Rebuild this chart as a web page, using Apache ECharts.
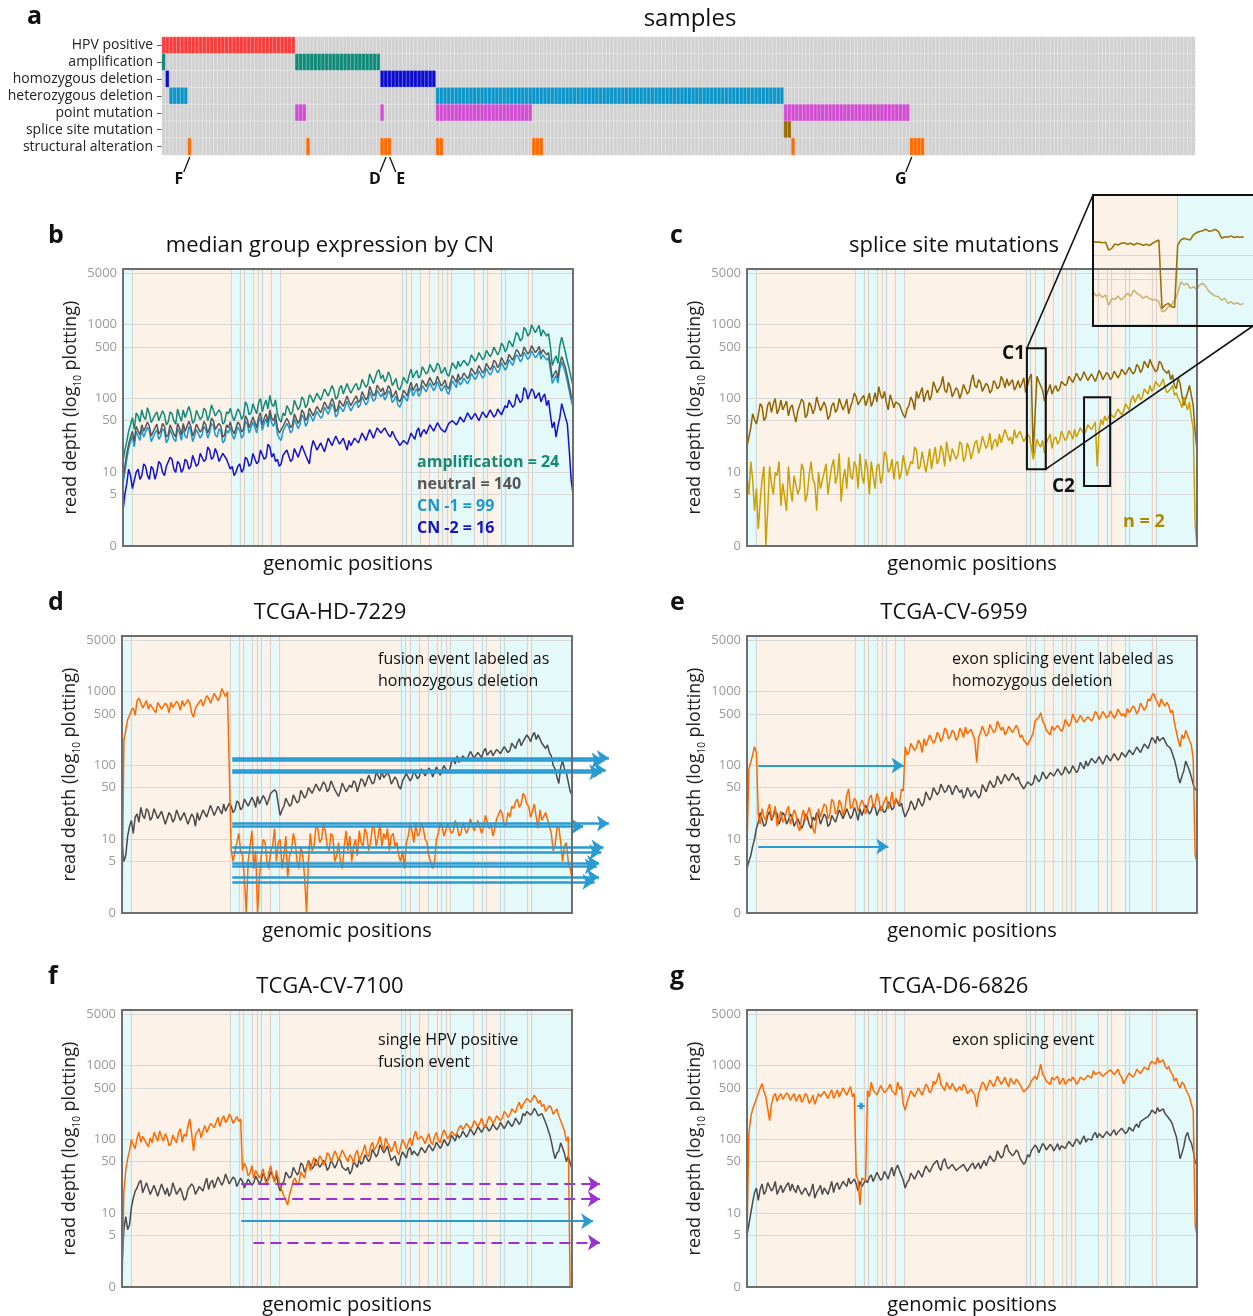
<!DOCTYPE html>
<html>
<head>
<meta charset="utf-8">
<script src="https://cdn.jsdelivr.net/npm/echarts@6/dist/echarts.min.js"></script>
<style>
  html, body { margin: 0; padding: 0; background: #ffffff; }
  #chart { width: 1253px; height: 1316px; }
</style>
</head>
<body>
<div id="chart"></div>
<script>
// ---------------- panel a: per-sample annotation tracks ----------------
const sampleCount = 279;
const annotationRows = ['HPV positive', 'amplification', 'homozygous deletion', 'heterozygous deletion',
  'point mutation', 'splice site mutation', 'structural alteration'];
// inclusive sample index ranges flagged in each track
const hpvPositive = [[0, 35]];
const amplification = [[0, 0], [36, 58]];
const homozygousDeletion = [[1, 1], [59, 73]];
const heterozygousDeletion = [[2, 6], [74, 167]];
const pointMutation = [[36, 38], [59, 59], [74, 99], [168, 201]];
const spliceSiteMutation = [[168, 169]];
const structuralAlteration = [[7, 7], [39, 39], [59, 61], [74, 75], [100, 102], [170, 170], [202, 205]];
const highlightedLabels = ['F', 'D', 'E', 'G'];
const highlightedSamples = [7, 60, 61, 202];

// ---------------- gene model (fraction of genomic span) ----------------
const exonSpans = [[0, 0.023], [0.243, 0.262], [0.269, 0.29], [0.305, 0.314], [0.333, 0.348],
  [0.618, 0.633], [0.64, 0.658], [0.684, 0.696], [0.707, 0.718], [0.729, 0.784], [0.795, 0.807],
  [0.836, 0.9], [0.907, 1]];
const extraBoundaries = [0.85];

// ---------------- read depth axis ----------------
const depthTicks = [1, 5, 10, 50, 100, 500, 1000, 5000];
const depthTickLabels = ['0', '5', '10', '50', '100', '500', '1000', '5000'];

// ---------------- panel b: median group expression by CN ----------------
const medianAmplification = [
  14, 20, 26, 36, 44, 55, 38, 64, 58, 48, 70, 56, 52, 75, 62, 47, 45, 60, 66, 50,
  50, 68, 60, 44, 48, 66, 62, 50, 45, 72, 58, 49, 70, 55, 52, 78, 64, 46, 50, 69,
  72, 52, 56, 74, 68, 50, 60, 82, 78, 58, 55, 70, 64, 45, 48, 66, 62, 74, 58, 50,
  50, 72, 66, 52, 58, 90, 80, 60, 64, 85, 72, 62, 88, 100, 66, 82, 95, 72, 110, 84,
  78, 96, 62, 52, 48, 64, 58, 80, 72, 60, 66, 95, 90, 70, 78, 105, 96, 75, 84, 112,
  105, 88, 90, 118, 125, 95, 100, 135, 140, 108, 112, 150, 130, 98, 105, 138, 150, 115, 118, 160,
  135, 118, 112, 150, 160, 130, 140, 182, 175, 142, 155, 215, 205, 160, 170, 230, 245, 185, 210, 168,
  185, 230, 200, 150, 165, 188, 140, 130, 155, 195, 175, 160, 210, 250, 190, 215, 240, 190, 205, 270,
  255, 215, 230, 290, 275, 228, 250, 300, 280, 220, 235, 265, 215, 200, 250, 305, 290, 250, 320, 270,
  285, 330, 340, 280, 310, 390, 370, 320, 350, 420, 400, 335, 360, 450, 430, 370, 410, 500, 470, 390,
  440, 560, 520, 430, 480, 610, 560, 500, 640, 790, 720, 600, 650, 920, 850, 700, 760, 1000, 980, 780,
  820, 980, 700, 850, 900, 700, 760, 500, 280, 330, 380, 300, 520, 680, 640, 420, 320, 250, 190, 150];
const medianNeutral = [
  8, 12, 18, 24, 30, 36, 26, 42, 40, 32, 44, 36, 34, 48, 42, 31, 30, 40, 45, 33,
  36, 46, 42, 30, 32, 44, 44, 33, 30, 46, 40, 32, 46, 36, 34, 49, 42, 31, 36, 45,
  46, 35, 38, 49, 44, 34, 40, 54, 50, 38, 36, 46, 42, 30, 32, 44, 40, 48, 38, 33,
  34, 48, 44, 35, 38, 58, 52, 40, 42, 56, 48, 40, 56, 64, 44, 54, 62, 48, 70, 54,
  50, 62, 40, 34, 32, 42, 40, 54, 48, 40, 44, 62, 60, 46, 52, 70, 64, 50, 56, 74,
  72, 58, 60, 78, 82, 64, 68, 90, 92, 72, 76, 100, 88, 66, 72, 94, 100, 78, 82, 108,
  92, 80, 78, 100, 108, 88, 96, 124, 118, 96, 104, 146, 138, 108, 116, 152, 160, 124, 140, 112,
  125, 150, 135, 104, 112, 128, 98, 90, 104, 130, 118, 108, 140, 166, 128, 144, 160, 126, 138, 178,
  170, 145, 152, 192, 182, 150, 165, 200, 188, 148, 158, 178, 145, 134, 168, 205, 195, 165, 215, 180,
  192, 222, 228, 186, 208, 258, 245, 212, 232, 280, 265, 222, 240, 300, 285, 245, 270, 330, 310, 262,
  290, 360, 340, 285, 316, 395, 360, 330, 390, 460, 430, 370, 400, 500, 470, 400, 430, 520, 500, 420,
  450, 510, 400, 460, 480, 390, 420, 290, 190, 215, 240, 190, 300, 370, 350, 260, 200, 150, 110, 90];
const medianCNminus1 = [
  7, 10, 15, 21, 26, 31, 22, 36, 34, 27, 38, 30, 29, 41, 36, 26, 26, 34, 38, 28,
  31, 39, 36, 25, 28, 38, 38, 28, 26, 39, 34, 27, 40, 31, 29, 42, 36, 26, 31, 38,
  40, 29, 32, 42, 38, 29, 34, 46, 43, 32, 30, 39, 36, 25, 27, 37, 34, 41, 32, 28,
  28, 41, 37, 29, 32, 49, 45, 34, 36, 48, 41, 34, 48, 55, 37, 46, 53, 41, 60, 46,
  42, 53, 33, 29, 27, 36, 34, 46, 41, 34, 37, 53, 51, 39, 44, 60, 55, 42, 47, 63,
  62, 49, 51, 67, 70, 54, 58, 77, 79, 61, 64, 85, 75, 56, 61, 80, 85, 66, 70, 92,
  78, 68, 66, 85, 92, 75, 82, 106, 100, 82, 88, 124, 118, 92, 98, 130, 136, 105, 118, 95,
  106, 128, 115, 88, 95, 108, 82, 76, 88, 110, 100, 92, 119, 141, 108, 122, 136, 107, 117, 151,
  145, 123, 129, 163, 155, 128, 140, 170, 160, 126, 134, 151, 122, 114, 143, 174, 166, 140, 183, 153,
  163, 189, 194, 158, 177, 219, 208, 180, 197, 238, 225, 189, 204, 255, 242, 208, 230, 280, 264, 223,
  246, 306, 289, 242, 269, 336, 306, 281, 332, 391, 366, 315, 340, 425, 400, 340, 366, 442, 425, 357,
  383, 434, 340, 391, 408, 332, 357, 247, 160, 183, 204, 162, 255, 315, 298, 221, 170, 128, 95, 77];
const medianCNminus2 = [
  3, 5, 7, 11, 9, 6, 6, 10, 11, 8, 9, 13, 12, 9, 8, 12, 11, 8, 10, 14,
  13, 10, 9, 12, 12, 16, 15, 11, 10, 14, 13, 10, 11, 15, 14, 11, 12, 17, 16, 12,
  13, 18, 17, 14, 15, 22, 20, 15, 16, 21, 18, 14, 14, 18, 19, 15, 15, 11, 12, 9,
  10, 12, 13, 10, 11, 16, 15, 12, 13, 18, 17, 13, 14, 20, 19, 15, 16, 24, 22, 16,
  18, 14, 15, 12, 13, 17, 16, 20, 19, 14, 15, 21, 20, 16, 17, 23, 22, 17, 18, 13,
  21, 27, 26, 20, 19, 25, 24, 19, 20, 29, 28, 23, 22, 31, 30, 24, 25, 29, 24, 20,
  27, 23, 22, 29, 30, 25, 26, 34, 32, 27, 28, 38, 36, 29, 30, 40, 42, 34, 35, 40,
  38, 32, 30, 36, 34, 28, 26, 23, 22, 27, 28, 24, 25, 34, 32, 28, 36, 40, 30, 35,
  38, 33, 34, 44, 42, 36, 37, 47, 45, 38, 40, 35, 36, 46, 44, 50, 52, 44, 48, 56,
  58, 48, 50, 64, 62, 52, 55, 63, 60, 50, 52, 66, 64, 55, 58, 70, 66, 56, 60, 72,
  70, 60, 62, 80, 75, 95, 90, 76, 82, 115, 110, 88, 95, 140, 130, 98, 100, 135, 125, 100,
  105, 120, 90, 105, 115, 80, 95, 60, 40, 48, 30, 42, 55, 85, 80, 55, 45, 20, 8, 5];

// ---------------- panel c: splice site mutation samples ----------------
const spliceSampleHigh = [
  22, 30, 40, 62, 52, 45, 60, 85, 78, 50, 55, 82, 90, 65, 85, 100, 62, 72, 95, 70,
  70, 92, 58, 75, 82, 60, 48, 68, 66, 98, 90, 55, 60, 88, 80, 62, 72, 105, 100, 68,
  68, 90, 75, 52, 58, 80, 88, 65, 72, 100, 95, 70, 80, 98, 62, 78, 92, 118, 105, 82,
  85, 102, 110, 80, 95, 118, 78, 92, 120, 90, 145, 110, 100, 125, 88, 70, 112, 95, 75, 90,
  95, 82, 70, 60, 55, 72, 80, 105, 92, 70, 125, 100, 105, 140, 90, 115, 130, 95, 110, 170,
  160, 120, 135, 150, 200, 130, 120, 165, 145, 105, 110, 140, 130, 100, 120, 155, 150, 115, 125, 170,
  210, 150, 140, 180, 165, 125, 120, 160, 150, 118, 130, 175, 160, 135, 145, 200, 175, 140, 185, 150,
  150, 180, 130, 145, 175, 140, 160, 190, 120, 150, 190, 215, 18, 60, 200, 170, 160, 130, 92, 110,
  130, 155, 115, 135, 150, 125, 135, 170, 175, 150, 160, 200, 195, 165, 170, 220, 210, 175, 195, 230,
  225, 175, 185, 215, 205, 170, 200, 240, 215, 180, 185, 225, 210, 180, 195, 235, 225, 190, 210, 250,
  245, 210, 215, 265, 255, 215, 230, 290, 270, 225, 250, 320, 290, 260, 340, 290, 280, 230, 245, 320,
  300, 250, 260, 220, 240, 180, 210, 150, 135, 190, 160, 110, 80, 100, 120, 150, 110, 80, 35, 20];
const spliceSampleLow = [
  9, 5, 14, 8, 3, 6, 1.7, 4, 8, 12, 1, 3, 12, 7, 5, 10, 9, 14, 3.5, 7,
  7, 3, 12, 6, 4, 9, 9, 5, 6, 13, 11, 4, 5, 9, 14, 8, 7, 3, 10, 6,
  6, 10, 13, 5, 8, 12, 15, 7, 9, 18, 4, 8, 11, 6, 16, 9, 8, 14, 12, 6,
  18, 9, 7, 15, 11, 5, 14, 9, 6, 12, 13, 7, 9, 19, 17, 10, 11, 15, 8, 13,
  14, 8, 10, 17, 16, 9, 9, 14, 13, 22, 20, 11, 12, 19, 18, 10, 14, 21, 11, 16,
  22, 13, 15, 23, 19, 12, 26, 18, 14, 21, 20, 15, 17, 26, 24, 14, 16, 25, 21, 15,
  19, 25, 27, 18, 22, 31, 30, 21, 24, 34, 20, 26, 28, 22, 33, 25, 26, 38, 36, 27,
  30, 24, 38, 29, 28, 36, 34, 26, 25, 33, 30, 22, 15, 20, 28, 24, 22, 27, 18, 25,
  26, 33, 21, 28, 30, 24, 27, 36, 35, 27, 29, 37, 33, 28, 38, 30, 31, 40, 42, 33,
  36, 44, 46, 38, 40, 48, 12, 36, 52, 44, 58, 50, 48, 62, 65, 55, 56, 72, 75, 60,
  68, 85, 82, 70, 95, 110, 88, 102, 115, 95, 105, 135, 130, 115, 150, 125, 135, 170, 180, 145,
  160, 185, 140, 120, 115, 135, 150, 110, 120, 100, 90, 75, 105, 85, 70, 90, 55, 40, 2, 1];
// enlarged view of region C1
const spliceInsetHigh = [
  147, 144, 145, 142, 144, 115, 121, 137, 133, 140,
  142, 136, 140, 133, 140, 137, 132, 136, 131, 140,
  147, 154, 21.5, 23.7, 24.9, 22.6, 22.2, 133, 154, 162,
  157, 154, 178, 190, 196, 201, 209, 198, 201, 209,
  196, 162, 169, 166, 173, 165, 169, 166, 168];
const spliceInsetLow = [
  34.8, 30.7, 32.6, 29.6, 31.6, 23.7, 28.7, 27.9, 30.7, 27.4,
  30.1, 33.2, 30.7, 36.5, 33.2, 31.6, 28.7, 30.7, 28.7, 27.4,
  27.9, 26.1, 19.6, 20.1, 22.6, 23.7, 27.4, 33.2, 46.4, 42.2,
  44.3, 38.3, 40.2, 37.2, 42.2, 44.3, 40.2, 34.8, 32.6, 30.7,
  30.1, 27.4, 28.7, 24.9, 26.1, 24.4, 25.4, 23.9, 24.9];
const c1Region = { from: 0.622, to: 0.664, low: 11, high: 480 };
const c2Region = { from: 0.749, to: 0.807, low: 6.5, high: 104 };
const insetExonStart = 0.556;

// ---------------- panel d: TCGA-HD-7229 ----------------
const hd7229Reference = [
  9, 5, 6, 11, 15, 18, 12, 20, 22, 17, 27, 21, 19, 26, 24, 18, 20, 26, 25, 19,
  18, 24, 23, 16, 17, 23, 21, 17, 19, 25, 24, 18, 18, 23, 22, 16, 17, 22, 20, 15,
  23, 18, 19, 25, 26, 20, 21, 29, 28, 21, 22, 28, 27, 22, 30, 24, 24, 31, 28, 23,
  25, 33, 31, 25, 27, 35, 36, 28, 29, 37, 33, 27, 38, 30, 30, 39, 35, 29, 28, 42,
  40, 47, 44, 30, 21, 25, 28, 36, 34, 28, 30, 40, 38, 31, 33, 46, 45, 36, 40, 50,
  52, 42, 44, 56, 58, 45, 46, 60, 55, 44, 48, 62, 60, 47, 50, 38, 45, 58, 56, 44,
  42, 54, 50, 62, 58, 44, 46, 66, 62, 52, 55, 74, 70, 56, 60, 82, 78, 64, 85, 68,
  66, 80, 72, 56, 58, 70, 64, 52, 48, 62, 60, 78, 75, 62, 68, 84, 80, 66, 72, 90,
  88, 72, 76, 92, 85, 70, 72, 95, 90, 74, 78, 100, 95, 80, 86, 112, 120, 105, 135, 110,
  115, 135, 140, 118, 125, 155, 150, 126, 130, 150, 145, 128, 155, 170, 138, 150, 160, 136, 140, 165,
  165, 145, 150, 180, 175, 150, 160, 200, 190, 170, 205, 230, 185, 210, 220, 260, 240, 210, 255, 280,
  225, 260, 245, 200, 210, 170, 190, 150, 135, 100, 90, 70, 57, 95, 115, 90, 80, 60, 45, 40];
const hd7229 = [
  1, 220, 300, 420, 480, 560, 600, 480, 750, 820, 850, 600, 620, 760, 580, 680, 700, 560, 520, 720,
  680, 580, 560, 700, 650, 520, 720, 610, 600, 740, 680, 560, 760, 640, 640, 780, 700, 520, 450, 600,
  620, 720, 780, 640, 750, 880, 820, 700, 700, 950, 900, 760, 850, 1100, 1050, 860, 1000, 950, 7, 5,
  5, 9, 12, 7, 6, 3, 1, 5, 8, 13, 4, 7, 1, 3, 6, 10, 9, 5, 4, 7,
  8, 14, 5, 9, 10, 4, 6, 11, 3, 6, 7, 12, 9, 5, 4, 8, 6, 3, 1, 5,
  12, 7, 8, 15, 14, 9, 10, 16, 13, 8, 7, 12, 11, 5, 6, 9, 5, 4, 8, 13,
  7, 11, 5, 8, 10, 6, 13, 9, 8, 14, 12, 7, 9, 15, 14, 8, 11, 16, 8, 12,
  10, 14, 7, 11, 12, 8, 9, 6, 5, 7, 4, 9, 11, 16, 13, 9, 16, 11, 12, 17,
  14, 10, 9, 6, 6, 4, 5, 10, 12, 17, 15, 11, 11, 16, 17, 12, 13, 18, 15, 11,
  12, 17, 16, 12, 14, 19, 18, 13, 13, 18, 17, 12, 15, 21, 20, 14, 16, 11, 14, 19,
  18, 25, 22, 15, 16, 23, 20, 28, 26, 32, 35, 27, 30, 42, 38, 30, 28, 20, 24, 30,
  20, 14, 25, 18, 17, 23, 22, 15, 12, 7, 8, 14, 15, 9, 5, 8, 9, 5, 4, 3];
const hd7229FusionStart = 0.245;
const hd7229FusionDepths = [126, 117, 87, 81, 16.4, 14.9, 7.7, 6.7, 4.75, 4.3, 3.05, 2.65];
const hd7229FusionEnds = [1.082, 1.07, 1.075, 1.065, 1.082, 1.025, 1.07, 1.065, 1.06, 1.055, 1.06, 1.05];

// ---------------- panel e: TCGA-CV-6959 ----------------
const cv6959Reference = [
  4, 5, 6, 8, 10, 14, 17, 23, 22, 15, 16, 21, 24, 18, 19, 24, 22, 16, 17, 23,
  21, 16, 18, 22, 20, 15, 15, 19, 19, 14, 16, 22, 20, 16, 14, 20, 18, 23, 21, 16,
  17, 22, 20, 15, 16, 21, 22, 17, 18, 25, 24, 19, 20, 26, 25, 19, 21, 27, 23, 18,
  26, 21, 22, 29, 28, 22, 24, 30, 27, 21, 22, 28, 29, 23, 25, 32, 30, 25, 27, 35,
  34, 28, 31, 24, 20, 23, 26, 33, 30, 25, 28, 36, 35, 28, 32, 44, 42, 34, 38, 50,
  48, 40, 44, 56, 55, 43, 46, 54, 50, 40, 42, 54, 52, 43, 47, 36, 40, 50, 45, 38,
  38, 46, 44, 36, 40, 55, 52, 44, 46, 62, 60, 50, 55, 72, 68, 56, 58, 76, 72, 62,
  65, 78, 82, 64, 70, 58, 60, 48, 50, 60, 62, 54, 58, 74, 72, 60, 66, 82, 78, 66,
  70, 80, 84, 72, 76, 90, 88, 74, 80, 96, 92, 78, 84, 100, 95, 80, 88, 110, 105, 90,
  115, 98, 102, 125, 130, 108, 118, 132, 125, 104, 110, 138, 135, 115, 122, 145, 140, 118, 128, 150,
  150, 130, 135, 162, 160, 140, 148, 178, 170, 150, 158, 195, 185, 170, 200, 240, 225, 200, 250, 215,
  215, 240, 230, 190, 200, 170, 160, 120, 95, 70, 58, 72, 85, 115, 110, 85, 70, 55, 48, 45];
const cv6959 = [
  8, 90, 110, 140, 180, 150, 21, 16, 26, 20, 18, 25, 30, 19, 22, 28, 15, 20, 24, 17,
  19, 24, 28, 16, 17, 25, 22, 15, 13, 20, 25, 18, 18, 27, 21, 14, 12, 19, 26, 20,
  20, 30, 28, 19, 22, 35, 32, 22, 24, 34, 30, 21, 26, 40, 48, 26, 28, 36, 33, 24,
  24, 34, 30, 22, 27, 36, 40, 27, 29, 42, 35, 24, 25, 33, 38, 26, 31, 44, 28, 36,
  36, 30, 48, 45, 180, 140, 150, 200, 210, 160, 175, 220, 200, 150, 230, 185, 190, 260, 250, 200,
  220, 280, 260, 210, 240, 320, 300, 230, 250, 300, 280, 220, 240, 320, 290, 240, 330, 270, 260, 310,
  300, 220, 110, 240, 280, 340, 320, 250, 270, 360, 350, 280, 300, 400, 380, 300, 330, 260, 290, 340,
  340, 280, 290, 350, 310, 240, 260, 220, 230, 190, 200, 240, 280, 400, 380, 450, 520, 400, 360, 300,
  310, 260, 340, 300, 290, 350, 360, 290, 320, 420, 400, 340, 380, 500, 480, 380, 420, 480, 460, 390,
  400, 460, 480, 400, 450, 540, 500, 420, 430, 540, 520, 440, 470, 550, 520, 440, 480, 580, 560, 470,
  510, 450, 590, 520, 540, 640, 600, 500, 560, 700, 680, 560, 620, 800, 750, 880, 950, 800, 720, 620,
  800, 700, 640, 720, 650, 520, 560, 380, 290, 220, 180, 260, 230, 300, 260, 220, 190, 120, 6, 5];
const cv6959ArrowDepths = [100, 8];
const cv6959ArrowStarts = [0.025, 0.025];
const cv6959ArrowEnds = [0.348, 0.314];

// ---------------- panel f: TCGA-CV-7100 ----------------
const cv7100Reference = [
  2, 6, 9, 6, 7, 12, 16, 20, 22, 26, 28, 19, 20, 26, 25, 18, 19, 24, 23, 17,
  18, 25, 24, 18, 22, 17, 19, 26, 25, 18, 17, 22, 21, 15, 16, 21, 20, 25, 23, 18,
  19, 23, 24, 20, 25, 30, 21, 26, 28, 22, 23, 31, 30, 24, 27, 34, 32, 25, 26, 31,
  29, 23, 24, 30, 27, 22, 23, 29, 30, 24, 26, 32, 31, 25, 28, 35, 33, 27, 30, 37,
  36, 28, 33, 24, 20, 25, 27, 36, 38, 30, 32, 42, 40, 33, 36, 48, 45, 36, 42, 52,
  50, 40, 44, 54, 52, 42, 46, 52, 48, 38, 42, 53, 50, 41, 46, 56, 52, 42, 44, 38,
  42, 34, 38, 50, 48, 42, 54, 46, 50, 62, 60, 50, 56, 74, 70, 58, 65, 85, 80, 66,
  72, 82, 64, 52, 55, 60, 48, 44, 58, 68, 65, 56, 72, 78, 62, 70, 74, 60, 68, 78,
  76, 66, 70, 85, 82, 70, 78, 92, 88, 76, 84, 100, 96, 82, 92, 115, 110, 95, 118, 105,
  112, 130, 125, 108, 120, 140, 135, 115, 130, 150, 145, 125, 140, 158, 150, 130, 142, 162, 155, 135,
  148, 170, 160, 140, 155, 180, 170, 150, 165, 195, 185, 160, 178, 225, 210, 240, 250, 215, 230, 265,
  240, 210, 205, 225, 215, 170, 180, 120, 95, 70, 55, 65, 70, 90, 85, 65, 50, 60, 48, 40];
const cv7100 = [
  1, 20, 38, 55, 70, 100, 85, 75, 105, 125, 92, 110, 115, 88, 80, 105, 90, 125, 120, 95,
  130, 110, 95, 120, 105, 82, 88, 115, 100, 90, 125, 140, 92, 118, 110, 150, 190, 120, 70, 115,
  120, 140, 105, 130, 155, 125, 130, 165, 175, 145, 170, 200, 150, 185, 210, 170, 185, 220, 200, 165,
  170, 205, 175, 190, 38, 48, 42, 32, 35, 44, 30, 38, 40, 30, 34, 40, 28, 24, 36, 44,
  32, 26, 38, 30, 24, 20, 17, 15, 13, 18, 22, 28, 30, 24, 26, 36, 35, 30, 42, 50,
  38, 48, 57, 44, 48, 60, 55, 45, 50, 66, 62, 50, 58, 70, 62, 52, 55, 72, 68, 56,
  50, 62, 57, 48, 64, 72, 52, 60, 70, 85, 62, 58, 80, 92, 72, 80, 90, 110, 85, 72,
  105, 90, 82, 68, 78, 95, 70, 62, 80, 100, 88, 75, 90, 105, 82, 110, 130, 100, 95, 110,
  100, 88, 105, 120, 92, 85, 110, 125, 98, 90, 115, 135, 120, 102, 108, 128, 130, 112, 125, 145,
  155, 135, 140, 165, 160, 140, 150, 180, 170, 150, 165, 195, 158, 145, 175, 205, 190, 165, 180, 210,
  210, 180, 195, 240, 225, 200, 215, 260, 250, 230, 280, 320, 260, 300, 310, 360, 380, 320, 340, 400,
  360, 310, 340, 280, 300, 240, 250, 290, 270, 220, 230, 260, 210, 180, 170, 130, 95, 110, 1, 1];
const cv7100ArrowDepths = [25, 15.6, 7.8, 4.0];
const cv7100ArrowStarts = [0.265, 0.265, 0.265, 0.292];
const cv7100ArrowEnds = [1.062, 1.062, 1.047, 1.062];
const cv7100ArrowDashed = [true, true, false, true];

// ---------------- panel g: TCGA-D6-6826 ----------------
const d66826Reference = [
  5, 7, 10, 14, 19, 22, 15, 21, 25, 18, 20, 26, 27, 20, 22, 27, 18, 21, 24, 19,
  20, 24, 26, 20, 25, 21, 19, 24, 23, 18, 17, 22, 22, 17, 20, 25, 16, 19, 21, 24,
  18, 22, 23, 18, 22, 27, 19, 24, 26, 21, 21, 27, 28, 23, 30, 25, 24, 29, 25, 20,
  27, 23, 22, 28, 26, 31, 33, 27, 28, 36, 34, 28, 30, 37, 33, 29, 36, 42, 32, 40,
  45, 38, 40, 28, 22, 26, 28, 35, 34, 29, 30, 38, 36, 31, 37, 44, 42, 36, 38, 46,
  46, 52, 42, 38, 50, 55, 44, 40, 38, 46, 45, 38, 36, 42, 40, 46, 44, 37, 38, 45,
  48, 40, 42, 48, 40, 46, 52, 44, 46, 60, 58, 50, 54, 70, 67, 56, 60, 78, 85, 70,
  72, 60, 64, 72, 67, 56, 55, 46, 50, 62, 58, 70, 66, 84, 78, 66, 70, 88, 82, 72,
  74, 86, 80, 70, 78, 88, 72, 82, 85, 76, 80, 94, 90, 80, 85, 102, 95, 86, 100, 112,
  92, 102, 108, 98, 115, 125, 105, 120, 118, 106, 110, 128, 122, 112, 125, 136, 115, 125, 130, 142,
  135, 120, 128, 146, 140, 130, 150, 162, 145, 175, 165, 190, 180, 205, 220, 250, 245, 225, 270, 240,
  240, 260, 225, 210, 200, 180, 160, 130, 110, 80, 55, 65, 80, 110, 125, 100, 90, 70, 50, 45];
const d66826 = [
  5, 120, 200, 260, 300, 360, 420, 500, 570, 450, 380, 260, 180, 300, 380, 420, 330, 380, 420, 350,
  360, 430, 400, 340, 380, 420, 330, 370, 410, 320, 350, 420, 390, 310, 340, 400, 300, 360, 420, 380,
  380, 450, 440, 360, 420, 470, 360, 410, 470, 380, 400, 500, 480, 400, 460, 520, 380, 420, 33, 28,
  13, 30, 30, 28, 460, 380, 600, 470, 480, 400, 420, 540, 520, 430, 420, 500, 560, 460, 480, 400,
  600, 480, 520, 300, 250, 320, 380, 460, 450, 380, 400, 500, 480, 400, 420, 560, 520, 430, 460, 620,
  560, 650, 800, 560, 510, 460, 600, 520, 480, 580, 560, 450, 440, 520, 460, 560, 520, 420, 400, 480,
  480, 400, 280, 420, 500, 600, 560, 460, 480, 640, 620, 520, 540, 720, 700, 560, 620, 700, 580, 520,
  680, 600, 560, 660, 630, 560, 500, 440, 420, 500, 540, 620, 600, 720, 650, 800, 1050, 760, 700, 620,
  620, 560, 700, 640, 630, 720, 560, 620, 680, 560, 570, 660, 620, 700, 650, 560, 600, 700, 720, 640,
  680, 740, 760, 680, 860, 760, 740, 820, 800, 720, 700, 800, 780, 880, 860, 760, 820, 900, 760, 700,
  570, 640, 720, 800, 800, 700, 760, 900, 880, 780, 820, 960, 940, 880, 1050, 1150, 1200, 1050, 1300, 1100,
  1100, 1200, 1000, 900, 980, 820, 760, 620, 680, 560, 500, 600, 560, 480, 460, 380, 300, 250, 7, 5];
const d66826SkipDepth = 285;
const d66826SkipFrom = 0.245;
const d66826SkipTo = 0.262;

// ======================= drawing =======================
const FONT = '"Open Sans", "Noto Sans", sans-serif';
const PW = 450, PH = 277;          // visible plot frame size
const XMAX = 1.1;                  // room right of the frame for arrows
const DEPTH_MIN = 1, DEPTH_MAX = 5700;
const PEACH = '#fdf2e8', CYAN = '#e4f9fa';
const STRIPE = 'rgba(185,175,170,0.45)';
const GRIDLINE = '#d8d8d8';
const FRAME = '#6e6e6e';
const ORANGE = '#ff6a00', REF_GREY = '#4b4b4b';
const ARROW_BLUE = '#2a9bd2', ARROW_PURPLE = '#9b32d2';
const LINE_W = 1.5;

const countSamples = ranges => ranges.reduce((s, [a, b]) => s + b - a + 1, 0);
const nAmp = countSamples(amplification);
const nHom = countSamples(homozygousDeletion);
const nHet = countSamples(heterozygousDeletion);
const nNeutral = sampleCount - nAmp - nHom - nHet;
const nSplice = countSamples(spliceSiteMutation);

const toPoints = arr => arr.map((v, i) => [i / (arr.length - 1), v]);

function bandAreas(maxX) {
  const areas = [];
  let cursor = 0;
  exonSpans.forEach(([a, b]) => {
    if (a > cursor) areas.push([{ xAxis: cursor, itemStyle: { color: PEACH } }, { xAxis: a }]);
    areas.push([{ xAxis: a, itemStyle: { color: CYAN } }, { xAxis: Math.min(b, maxX) }]);
    cursor = b;
  });
  if (cursor < maxX) areas.push([{ xAxis: cursor, itemStyle: { color: PEACH } }, { xAxis: maxX }]);
  return areas;
}
function stripeLines() {
  const xs = [];
  exonSpans.forEach(([a, b]) => { if (a > 0) xs.push(a); if (b < 1) xs.push(b); });
  extraBoundaries.forEach(v => xs.push(v));
  return xs.map(v => ({ xAxis: v, lineStyle: { color: STRIPE, width: 1.2, type: 'solid' } }));
}
function depthGridLines() {
  return depthTicks.map((t, i) => [
    { coord: [0, t], name: depthTickLabels[i],
      lineStyle: { color: GRIDLINE, width: 1, type: 'solid' },
      label: { show: true, position: 'start', formatter: '{b}', color: '#9a9a9a', fontSize: 13,
               fontFamily: FONT, distance: 6 } },
    { coord: [1, t] }
  ]);
}

const panels = [
  { left: 123, top: 269, letter: 'b', titleX: 330, title: 'median group expression by CN',
    lines: [{ data: medianCNminus1, color: '#1d98cd' }, { data: medianNeutral, color: '#575757' },
            { data: medianAmplification, color: '#128a77' }, { data: medianCNminus2, color: '#1313cc' }] },
  { left: 747, top: 269, letter: 'c', titleX: 954, title: 'splice site mutations',
    lines: [{ data: spliceSampleHigh, color: '#8f6500' }, { data: spliceSampleLow, color: '#c9a105' }] },
  { left: 122, top: 636, letter: 'd', titleX: 330, title: 'TCGA-HD-7229',
    lines: [{ data: hd7229Reference, color: REF_GREY }, { data: hd7229, color: ORANGE }],
    arrows: hd7229FusionDepths.map((d, i) => ({ depth: d, from: hd7229FusionStart, to: hd7229FusionEnds[i],
      color: ARROW_BLUE, width: 2.6, type: 'solid' })) },
  { left: 747, top: 636, letter: 'e', titleX: 954, title: 'TCGA-CV-6959',
    lines: [{ data: cv6959Reference, color: REF_GREY }, { data: cv6959, color: ORANGE }],
    arrows: cv6959ArrowDepths.map((d, i) => ({ depth: d, from: cv6959ArrowStarts[i], to: cv6959ArrowEnds[i],
      color: ARROW_BLUE, width: 2, type: 'solid' })) },
  { left: 122, top: 1010, letter: 'f', titleX: 330, title: 'TCGA-CV-7100',
    lines: [{ data: cv7100Reference, color: REF_GREY }, { data: cv7100, color: ORANGE }],
    arrows: cv7100ArrowDepths.map((d, i) => ({ depth: d, from: cv7100ArrowStarts[i], to: cv7100ArrowEnds[i],
      color: cv7100ArrowDashed[i] ? ARROW_PURPLE : ARROW_BLUE, width: 2,
      type: cv7100ArrowDashed[i] ? [11, 6] : 'solid' })) },
  { left: 747, top: 1010, letter: 'g', titleX: 954, title: 'TCGA-D6-6826',
    lines: [{ data: d66826Reference, color: REF_GREY }, { data: d66826, color: ORANGE }],
    arrows: [{ depth: d66826SkipDepth, from: d66826SkipFrom, to: d66826SkipTo, color: ARROW_BLUE,
      width: 1.5, type: 'solid', both: true }] }
];

const grids = [], xAxes = [], yAxes = [], series = [], graphics = [];

function txt(x, y, text, font, fill, align, vAlign) {
  vAlign = vAlign || 'middle';
  return { type: 'text', x, y, z: 50, silent: true,
    style: { text, font, fill, align, textAlign: align, verticalAlign: vAlign, textVerticalAlign: vAlign } };
}

// ---- panel a heatmap ----
const trackRanges = [hpvPositive, amplification, homozygousDeletion, heterozygousDeletion,
  pointMutation, spliceSiteMutation, structuralAlteration];
const trackColors = ['#f73c3c', '#0f8a78', '#0c0ccc', '#0b95c8', '#d04cd0', '#9a6b00', '#ff6a00'];
const cells = [];
trackRanges.forEach((ranges, r) => {
  const codes = new Array(sampleCount).fill(0);
  ranges.forEach(([a, b]) => { for (let s = a; s <= b; s++) codes[s] = r + 1; });
  codes.forEach((c, s) => cells.push([s, r, c]));
});
grids.push({ left: 162, top: 37, width: 1033, height: 118 });
xAxes.push({ type: 'category', gridIndex: 0, data: Array.from({ length: sampleCount }, (_, i) => i), show: false });
yAxes.push({ type: 'category', gridIndex: 0, data: annotationRows, inverse: true,
  axisLine: { show: false },
  axisTick: { show: true, alignWithLabel: true, interval: 0, length: 5, lineStyle: { color: '#555', width: 1 } },
  axisLabel: { interval: 0, fontSize: 14, color: '#222', fontFamily: FONT, margin: 9 },
  splitLine: { show: false } });
series.push({ type: 'heatmap', xAxisIndex: 0, yAxisIndex: 0, data: cells, silent: true, animation: false,
  itemStyle: { borderColor: 'rgba(255,255,255,0.5)', borderWidth: 0.6 }, emphasis: { disabled: true } });

// ---- panels b-g ----
const yName = '{a|read depth (log}{s|10}{a| plotting)}';
panels.forEach((p, n) => {
  const k = n + 1;
  grids.push({ left: p.left, top: p.top, width: PW * XMAX, height: PH });
  xAxes.push({ type: 'value', gridIndex: k, min: 0, max: XMAX, show: false });
  yAxes.push({ type: 'log', gridIndex: k, logBase: 10, min: DEPTH_MIN, max: DEPTH_MAX,
    axisLine: { show: false }, axisTick: { show: false }, axisLabel: { show: false }, splitLine: { show: false },
    name: yName, nameLocation: 'middle', nameGap: 40,
    nameTextStyle: { fontFamily: FONT, fontSize: 18, color: '#222',
      rich: { a: { fontFamily: FONT, fontSize: 18, color: '#222', lineHeight: 24 },
              s: { fontFamily: FONT, fontSize: 10, color: '#222', lineHeight: 12, verticalAlign: 'bottom' } } } });
  series.push({ type: 'line', xAxisIndex: k, yAxisIndex: k, data: [], silent: true, animation: false,
    markArea: { silent: true, z: 1, animation: false, data: bandAreas(1) },
    markLine: { silent: true, z: 2, animation: false, symbol: ['none', 'none'], label: { show: false },
      data: [...stripeLines(), ...depthGridLines()] } });
  p.lines.forEach(l => series.push({ type: 'line', xAxisIndex: k, yAxisIndex: k, data: toPoints(l.data),
    symbol: 'none', showSymbol: false, silent: true, animation: false, z: 3,
    lineStyle: { color: l.color, width: LINE_W }, itemStyle: { color: l.color } }));
  if (p.arrows) {
    series.push({ type: 'line', xAxisIndex: k, yAxisIndex: k, data: [], silent: true, animation: false,
      markLine: { silent: true, z: 4, animation: false, symbol: ['none', 'arrow'], symbolSize: 12,
        label: { show: false },
        data: p.arrows.map(a => [
          { coord: [a.from, a.depth], symbol: a.both ? 'arrow' : 'none', symbolSize: a.both ? 6 : 12,
            lineStyle: { color: a.color, width: a.width, type: a.type } },
          { coord: [a.to, a.depth], symbol: 'arrow', symbolSize: a.both ? 6 : 12 }]) } });
  }
  graphics.push({ type: 'rect', z: 40, silent: true, shape: { x: p.left, y: p.top, width: PW, height: PH },
    style: { fill: 'none', stroke: FRAME, lineWidth: 2 } });
  graphics.push(txt(p.titleX, p.top - 23, p.title, '22px ' + FONT, '#111', 'center'));
  graphics.push(txt(p.left + PW / 2, p.top + PH + 18, 'genomic positions', '20px ' + FONT, '#111', 'center'));
  graphics.push(txt(p.left < 400 ? 48 : 670, p.top - 33, p.letter, 'bold 25px ' + FONT, '#111', 'left'));
});

// ---- inset: enlarged C1 ----
const insetK = panels.length + 1;
const INSET = { left: 1093, top: 195, width: 160, height: 131 };
grids.push({ left: INSET.left, top: INSET.top, width: INSET.width + 10, height: INSET.height });
xAxes.push({ type: 'value', gridIndex: insetK, min: 0, max: (INSET.width + 10) / INSET.width, show: false });
yAxes.push({ type: 'log', gridIndex: insetK, logBase: 10, min: 13, max: 560, show: false });
series.push({ type: 'line', xAxisIndex: insetK, yAxisIndex: insetK, data: [], silent: true, animation: false,
  markArea: { silent: true, z: 1, animation: false, data: [
    [{ xAxis: 0, itemStyle: { color: PEACH } }, { xAxis: insetExonStart }],
    [{ xAxis: insetExonStart, itemStyle: { color: CYAN } }, { xAxis: 1.0625 }]] },
  markLine: { silent: true, z: 2, animation: false, symbol: ['none', 'none'], label: { show: false },
    data: [{ xAxis: insetExonStart, lineStyle: { color: STRIPE, width: 1.2, type: 'solid' } },
      { yAxis: 100, lineStyle: { color: GRIDLINE, width: 1, type: 'solid' } },
      { yAxis: 50, lineStyle: { color: GRIDLINE, width: 1, type: 'solid' } }] } });
series.push({ type: 'line', xAxisIndex: insetK, yAxisIndex: insetK, data: toPoints(spliceInsetLow),
  symbol: 'none', silent: true, animation: false, z: 3, lineStyle: { color: '#c9b575', width: 1.6 } });
series.push({ type: 'line', xAxisIndex: insetK, yAxisIndex: insetK, data: toPoints(spliceInsetHigh),
  symbol: 'none', silent: true, animation: false, z: 3, lineStyle: { color: '#9c7306', width: 1.6 } });
// C1 / C2 outlines on panel c
series.push({ type: 'line', xAxisIndex: 2, yAxisIndex: 2, data: [], silent: true, animation: false,
  markArea: { silent: true, z: 5, animation: false,
    itemStyle: { color: 'rgba(0,0,0,0)', borderColor: '#111', borderWidth: 2 },
    data: [c1Region, c2Region].map(r => [{ coord: [r.from, r.high] }, { coord: [r.to, r.low] }]) } });

// static texts
graphics.push(txt(27, 17, 'a', 'bold 25px ' + FONT, '#111', 'left'));
graphics.push(txt(690, 19, 'samples', '24px ' + FONT, '#111', 'center'));
const legendB = [[`amplification = ${nAmp}`, '#128a77'], [`neutral = ${nNeutral}`, '#575757'],
  [`CN -1 = ${nHet}`, '#1d98cd'], [`CN -2 = ${nHom}`, '#1313cc']];
legendB.forEach(([t, c], i) => graphics.push(txt(417, 462 + i * 22, t, 'bold 16px ' + FONT, c, 'left')));
graphics.push(txt(1123, 522, `n = ${nSplice}`, 'bold 18px ' + FONT, '#b08a06', 'left'));
graphics.push(txt(1025, 354, 'C1', 'bold 19px ' + FONT, '#111', 'right'));
graphics.push(txt(1052, 487, 'C2', 'bold 19px ' + FONT, '#111', 'left'));
graphics.push(txt(378, 659, 'fusion event labeled as', '16px ' + FONT, '#111', 'left'));
graphics.push(txt(378, 681, 'homozygous deletion', '16px ' + FONT, '#111', 'left'));
graphics.push(txt(952, 659, 'exon splicing event labeled as', '16px ' + FONT, '#111', 'left'));
graphics.push(txt(952, 681, 'homozygous deletion', '16px ' + FONT, '#111', 'left'));
graphics.push(txt(378, 1040, 'single HPV positive', '16px ' + FONT, '#111', 'left'));
graphics.push(txt(378, 1062, 'fusion event', '16px ' + FONT, '#111', 'left'));
graphics.push(txt(952, 1040, 'exon splicing event', '16px ' + FONT, '#111', 'left'));
graphics.push({ type: 'rect', z: 40, silent: true,
  shape: { x: INSET.left, y: INSET.top, width: INSET.width + 40, height: INSET.height },
  style: { fill: 'none', stroke: '#111', lineWidth: 2 } });

const chart = echarts.init(document.getElementById('chart'), null, { renderer: 'canvas', width: 1253, height: 1316 });
chart.setOption({
  animation: false,
  backgroundColor: '#ffffff',
  textStyle: { fontFamily: FONT },
  visualMap: { type: 'piecewise', show: false, seriesIndex: 0, dimension: 2,
    pieces: [{ value: 0, color: '#d1d1d1' }].concat(trackColors.map((c, i) => ({ value: i + 1, color: c }))) },
  grid: grids, xAxis: xAxes, yAxis: yAxes, series
});

// leader lines and labels for highlighted samples
const heatBottom = 37 + 118;
highlightedSamples.forEach((s, i) => {
  const x = chart.convertToPixel({ xAxisIndex: 0 }, s);
  const dir = highlightedLabels[i] === 'E' ? 1 : -1;
  graphics.push({ type: 'line', z: 50, silent: true,
    shape: { x1: x, y1: heatBottom + 2, x2: x + dir * 6, y2: heatBottom + 17 },
    style: { stroke: '#111', lineWidth: 1.3 } });
  graphics.push(txt(x + dir * 11, heatBottom + 24, highlightedLabels[i], 'bold 16px ' + FONT, '#111', 'center'));
});
// connectors from C1 to its enlarged view
const c1TopLeft = chart.convertToPixel({ xAxisIndex: 2, yAxisIndex: 2 }, [c1Region.from, c1Region.high]);
const c1BottomRight = chart.convertToPixel({ xAxisIndex: 2, yAxisIndex: 2 }, [c1Region.to, c1Region.low]);
graphics.push({ type: 'line', z: 45, silent: true,
  shape: { x1: c1TopLeft[0], y1: c1TopLeft[1], x2: INSET.left, y2: INSET.top },
  style: { stroke: '#111', lineWidth: 1.6 } });
graphics.push({ type: 'line', z: 45, silent: true,
  shape: { x1: c1BottomRight[0], y1: c1BottomRight[1], x2: INSET.left + INSET.width, y2: INSET.top + INSET.height },
  style: { stroke: '#111', lineWidth: 1.6 } });

chart.setOption({ graphic: graphics });
</script>
</body>
</html>
